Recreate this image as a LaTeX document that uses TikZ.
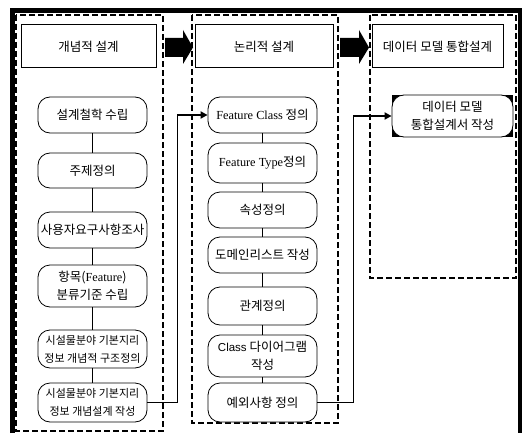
\documentclass[tikz,border=0pt]{standalone}
\usepackage{fontspec}
\setmainfont{Liberation Serif}
\newfontfamily\krf{Noto Sans CJK KR}
\newfontfamily\latf{Liberation Serif}
\newfontfamily\arlf{Liberation Sans}
\newcommand{\lt}[1]{{\latf\fontsize{12.3}{18}\selectfont #1}}
\usetikzlibrary{backgrounds,arrows.meta}

\begin{document}
\begin{tikzpicture}[x=1pt,y=-1pt,
 rnode/.style={draw, line width=0.8pt, rounded corners=12pt, minimum width=109pt, align=center, inner sep=1pt, font=\krf\fontsize{12.5}{18}\selectfont, fill=white},
 small/.style={font=\krf\fontsize{11}{18}\selectfont},
 hdr/.style={draw, line width=1pt, font=\krf\fontsize{12.5}{14}\selectfont, inner sep=0pt, minimum height=43pt},
 col/.style={dash pattern=on 6pt off 3pt, line width=1.3pt},
 link/.style={line width=1.2pt},
 conn/.style={line width=1.8pt, -{Triangle[length=7pt,width=7pt]}},
]
\useasboundingbox (0,0) rectangle (526,433);

% outer frame
\draw[line width=4.5pt] (12.5,433) -- (12.5,10.5) -- (520,10.5) -- (520,433);

% column frames
\draw[col] (16,15) rectangle (163,431);
\draw[col] (192,15) rectangle (338,423);
\draw[col] (370,15) rectangle (516,278);

% headers
\node[hdr, minimum width=135pt] (h1) at (88.5,46.5) {개념적 설계};
\node[hdr, minimum width=138pt] (h2) at (264,46.5) {논리적 설계};
\node[hdr, minimum width=131pt] (h3) at (437.5,46.5) {데이터 모델 통합설계};

% block arrows
\fill (165,38) -- (183,38) -- (183,30) -- (193,47.5) -- (183,64) -- (183,57) -- (165,57) -- cycle;
\fill (340,38) -- (359,38) -- (359,30) -- (369,47.5) -- (359,64) -- (359,57) -- (340,57) -- cycle;

% column 1
\node[rnode, minimum height=36pt] (n1) at (92.5,115) {설계철학 수립};
\node[rnode, minimum height=35pt] (n2) at (92.5,170.5) {주제정의};
\node[rnode, minimum height=36pt] (n3) at (92.5,230) {사용자요구사항조사};
\node[rnode, minimum height=42pt] (n4) at (92.5,286) {항목(\lt{Feature})\\분류기준 수립};
\node[rnode, small, minimum height=38pt] (n5) at (92.5,349) {시설물분야 기본지리\\정보 개념적 구조정의};
\node[rnode, small, minimum height=39pt] (n6) at (92.5,402.5) {시설물분야 기본지리\\정보 개념설계 작성};

% column 2
\node[rnode, minimum height=36pt] (m1) at (262.5,115) {\lt{Feature Class} 정의};
\node[rnode, minimum height=40pt] (m2) at (262.5,163) {\lt{Feature Type}정의};
\node[rnode, minimum height=36pt] (m3) at (262.5,210) {속성정의};
\node[rnode, minimum height=36pt] (m4) at (262.5,255) {도메인리스트 작성};
\node[rnode, minimum height=38pt] (m5) at (262.5,306) {관계정의};
\node[rnode, minimum height=42pt] (m6) at (262.5,356) {{\arlf\fontsize{11.5}{18}\selectfont Class} 다이어그램\\작성};
\node[rnode, minimum height=39pt] (m7) at (262.5,402.5) {예외사항 정의};

% column 3
\node[rnode, minimum width=121pt, minimum height=42pt] (d1) at (452.5,116) {데이터 모델\\통합설계서 작성};
\begin{scope}[on background layer]
\fill (d1.south west) rectangle (d1.north east);
\end{scope}

% vertical links
\foreach \a/\b in {n1/n2,n2/n3,n3/n4,n4/n5,n5/n6,m1/m2,m2/m3,m3/m4,m4/m5,m5/m6,m6/m7}
  \draw[link] (\a) -- (\b);

% connectors between columns
\draw[conn] (n6.east) -- ++(30,0) |- (m1.west);
\draw[conn] (m7.east) -- ++(36,0) |- (d1.west);
\end{tikzpicture}
\end{document}
